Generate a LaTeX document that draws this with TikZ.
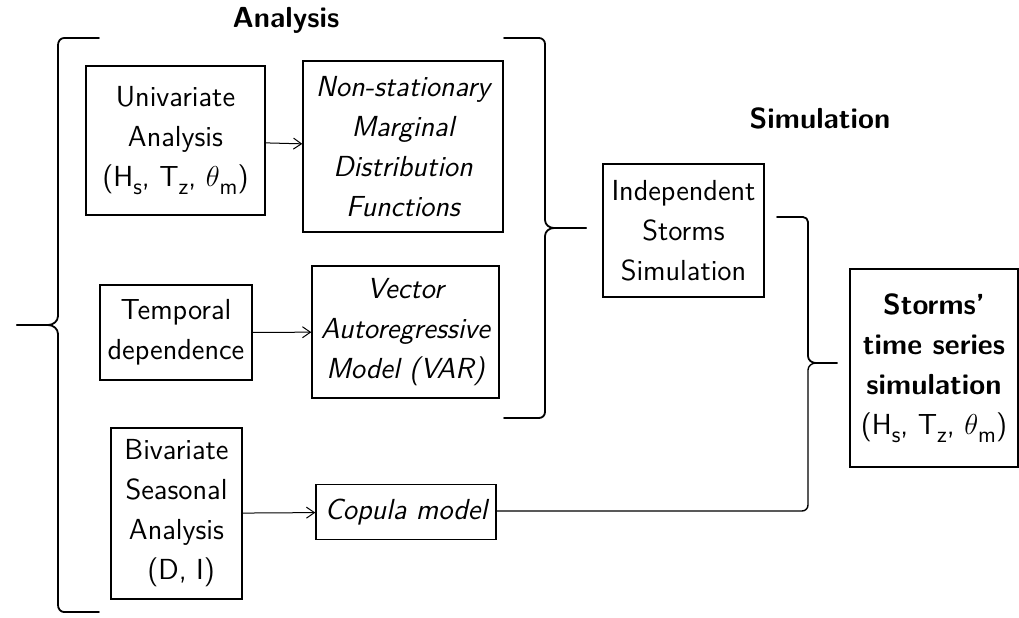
\documentclass[tikz,border=0pt]{standalone}
\usetikzlibrary{arrows.meta,positioning}
\newcommand\lowsub[1]{\raisebox{-4pt}{\fontsize{11.5}{11.5}\selectfont #1}}
\begin{document}
\begin{tikzpicture}
[x=0.5pt, y=-0.5pt, line width=0.7pt, >={Straight Barb[length=4pt,width=5.5pt]},
 font=\fontsize{14.5}{20}\selectfont\sffamily,
 step box/.style={rectangle, draw, inner sep=0pt, align=center},
 model box/.style={step box, font=\fontsize{14.5}{20}\selectfont\sffamily\itshape},
 phase title/.style={font=\fontsize{14.5}{17}\selectfont\sffamily\bfseries},
 brace line/.style={line width=0.9pt, line cap=round, line join=round}]

\useasboundingbox (0,0) rectangle (1019,617);

% titles
\node[phase title] (analysis) at (286,20) {Analysis};
\node[phase title] (simulation) at (820,118) {Simulation};

% analysis steps
\node[step box, minimum width=89.5pt, minimum height=74.5pt] (univariate) at (175.5,140.5)
  {Univariate\\Analysis\\(H\lowsub{s}, T\lowsub{z}, $\theta$\lowsub{m})};
\node[model box, minimum width=100pt, minimum height=85.5pt] (marginal) at (403,146.5)
  {Non-stationary\\Marginal\\Distribution\\Functions}
  edge [<-, line width=0.5pt] (univariate);
\node[step box, minimum width=76pt, minimum height=47.5pt] (temporal) at (176,332.5)
  {Temporal\\dependence};
\node[model box, minimum width=93.5pt, minimum height=66pt] (var) at (405.5,332)
  {Vector\\Autoregressive\\Model (VAR)}
  edge [<-, line width=0.5pt] (temporal);
\node[step box, minimum width=65.5pt, minimum height=85.5pt] (bivariate) at (176.5,513.5)
  {Bivariate\\Seasonal\\Analysis\\\ (D, I)};
\node[model box, minimum width=90pt, minimum height=27.5pt] (copula) at (406,512)
  {Copula model}
  edge [<-, line width=0.5pt] (bivariate);

% simulation steps
\node[step box, minimum width=80.5pt, minimum height=66.5pt] (independent) at (683.5,230.5)
  {Independent\\Storms\\Simulation};
\node[step box, minimum width=84pt, minimum height=99pt] (storms) at (934,368)
  {\textbf{Storms'}\\\textbf{time series}\\\textbf{simulation}\\(H\lowsub{s}, T\lowsub{z}, $\theta$\lowsub{m})};

% braces
\coordinate (analysistip) at (17,325);
\coordinate (modeltip) at (586,228);
\coordinate (simtip) at (837,363);
\coordinate (simbottom) at (808,511);

\draw[brace line] (99,38) -- (64,38) to[out=180,in=90] (58,45) -- (58,316)
  to[out=-90,in=0] (48,325) -- (analysistip);
\draw[brace line] (analysistip) -- (48,325) to[out=0,in=90] (58,334) -- (58,605)
  to[out=-90,in=180] (64,612) -- (99,612);

\draw[brace line] (504,38) -- (539,38) to[out=0,in=90] (545,44) -- (545,220)
  to[out=-90,in=180] (554,228) -- (modeltip);
\draw[brace line] (modeltip) -- (554,228) to[out=180,in=90] (545,236) -- (545,412)
  to[out=-90,in=0] (539,418) -- (504,418);

\draw[brace line] (777,217) -- (803,217) to[out=0,in=90] (808,222) -- (808,356)
  to[out=-90,in=180] (816,363) -- (simtip);
\draw[brace line, line width=0.7pt] (simtip) -- (816,363) to[out=180,in=90] (808,370) -- (808,505)
  to[out=-90,in=0] (802,511) -- (simbottom -| copula.east);
\end{tikzpicture}
\end{document}
